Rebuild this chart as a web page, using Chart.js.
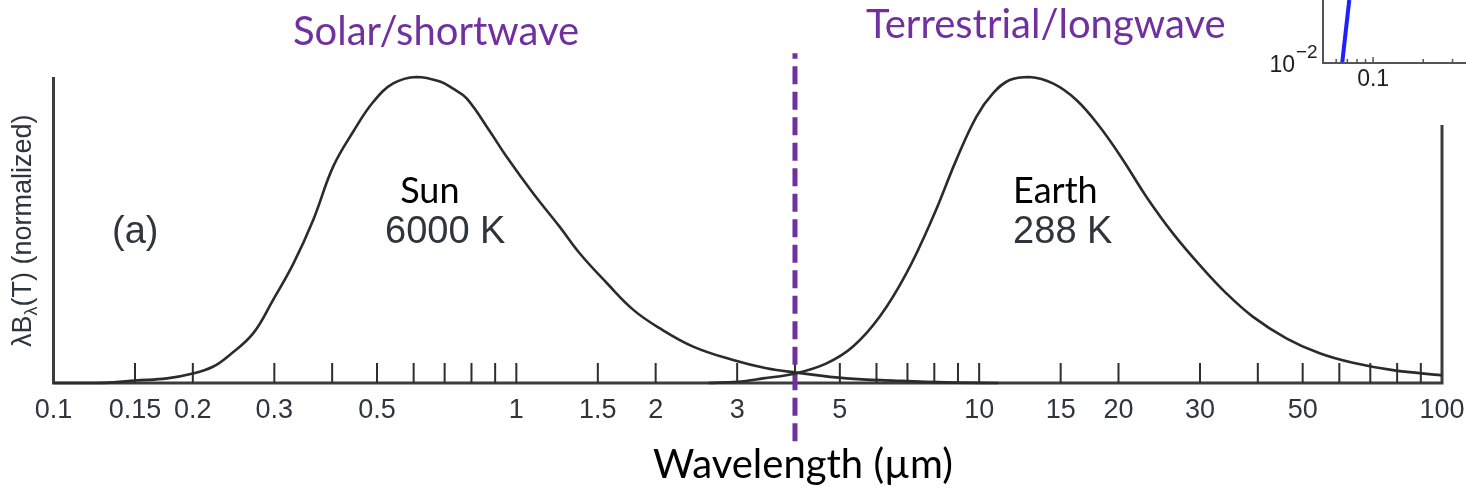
<!DOCTYPE html>
<html>
<head>
<meta charset="utf-8">
<script src="https://cdn.jsdelivr.net/npm/chart.js@4.4.1/dist/chart.umd.min.js"></script>
<style>
  html, body { margin: 0; padding: 0; background: #fff; }
  #wrap { position: relative; width: 1466px; height: 497px; overflow: hidden; }
  #spectrum { position: absolute; left: 0; top: 0; }
  #inset { position: absolute; left: 1240px; top: 0; }
</style>
</head>
<body>
<div id="wrap">
  <canvas id="spectrum" width="1466" height="497"></canvas>
  <canvas id="inset" width="226" height="100"></canvas>
</div>
<script>
// Normalized λBλ(T) curves against wavelength (µm)
const sunWavelengths = [0.1, 0.12, 0.135, 0.15, 0.176, 0.2, 0.221, 0.24, 0.27, 0.298, 0.33, 0.364, 0.402, 0.444, 0.491, 0.542, 0.609, 0.684, 0.73, 0.781, 0.877, 0.952, 1.087, 1.24, 1.37, 1.57, 1.79, 2.04, 2.41, 2.94, 3.47, 4.03, 5.17, 6.62, 8.5, 11];
const sunValues = [0, 0, 0.002, 0.008, 0.015, 0.031, 0.053, 0.091, 0.162, 0.271, 0.391, 0.533, 0.707, 0.821, 0.919, 0.979, 1.0, 0.985, 0.962, 0.93, 0.822, 0.74, 0.62, 0.511, 0.424, 0.326, 0.239, 0.179, 0.119, 0.075, 0.048, 0.034, 0.015, 0.0075, 0.002, 0];

const earthWavelengths = [2.6, 3.0, 3.41, 4.03, 4.68, 5.34, 6.1, 6.96, 7.95, 8.93, 9.86, 10.72, 11.64, 12.85, 14.43, 16.22, 18.2, 20.45, 22.97, 26.22, 29.94, 34.2, 39.0, 46.1, 54.4, 64.2, 78.3, 100];
const earthValues = [0, 0.004, 0.015, 0.032, 0.064, 0.119, 0.217, 0.358, 0.543, 0.73, 0.87, 0.947, 0.99, 1.0, 0.979, 0.925, 0.838, 0.729, 0.609, 0.489, 0.386, 0.293, 0.217, 0.146, 0.097, 0.066, 0.042, 0.025];

// Axis ticks and labels
const tickWavelengths = [0.15, 0.2, 0.3, 0.4, 0.5, 0.6, 0.7, 0.8, 0.9, 1, 1.5, 2, 3, 4, 5, 6, 7, 8, 9, 10, 15, 20, 30, 40, 50, 60, 70, 80, 90];
const labelWavelengths = [0.1, 0.15, 0.2, 0.3, 0.5, 1, 1.5, 2, 3, 5, 10, 15, 20, 30, 50, 100];
const tickLabels = ['0.1', '0.15', '0.2', '0.3', '0.5', '1', '1.5', '2', '3', '5', '10', '15', '20', '30', '50', '100'];

// Shortwave / longwave split
const dividerWavelength = 4;
const dividerRange = [1.078, -0.199];
const rightFrameTop = 0.843;

// Small log-log panel in the corner
const insetWavelengths = [0.0652, 0.0719];
const insetValues = [0.01, 0.1];
const insetMinorTicks = [0.06, 0.07, 0.08, 0.09, 0.2, 0.3];
const insetMajorTick = 0.1;

const toPoints = (xs, ys) => xs.map((v, i) => ({ x: v, y: ys[i] }));

const axisFont = '"Liberation Sans", Arial, sans-serif';
const calloutFont = 'Lato, "Open Sans", sans-serif';
const axisInk = '#2f353d';

const spectrumAxes = {
    id: 'spectrumAxes',
    beforeDatasetsDraw(chart) {
        const { ctx, scales: { x, y } } = chart;
        const xl = x.getPixelForValue(0.1);
        const xr = x.getPixelForValue(100);
        const yb = y.getPixelForValue(0);

        ctx.save();
        // left axis, baseline and right edge
        ctx.strokeStyle = '#3c3c3c';
        ctx.lineWidth = 3;
        ctx.beginPath();
        ctx.moveTo(xl, y.getPixelForValue(1));
        ctx.lineTo(xl, yb);
        ctx.lineTo(xr, yb);
        ctx.lineTo(xr, y.getPixelForValue(rightFrameTop));
        ctx.stroke();

        // ticks point up into the plot
        ctx.lineWidth = 2;
        ctx.strokeStyle = '#2e2e2e';
        ctx.beginPath();
        tickWavelengths.forEach(w => {
            const px = x.getPixelForValue(w);
            ctx.moveTo(px, yb);
            ctx.lineTo(px, yb - 20);
        });
        ctx.stroke();

        ctx.fillStyle = axisInk;
        ctx.font = '27px ' + axisFont;
        ctx.textAlign = 'center';
        ctx.textBaseline = 'alphabetic';
        labelWavelengths.forEach((w, i) => {
            ctx.fillText(tickLabels[i], x.getPixelForValue(w), yb + 35);
        });
        ctx.restore();
    },
    afterDraw(chart) {
        const { ctx, scales: { x, y } } = chart;
        ctx.save();
        ctx.textBaseline = 'alphabetic';
        ctx.textAlign = 'left';

        // band titles
        ctx.fillStyle = '#7030a0';
        ctx.font = '40px ' + calloutFont;
        ctx.fillText('Solar/shortwave', 293, 45);
        ctx.fillText('Terrestrial/longwave', 866, 38);

        // curve names
        ctx.fillStyle = '#000';
        ctx.font = '36px ' + calloutFont;
        ctx.fillText('Sun', x.getPixelForValue(0.561), y.getPixelForValue(0.588));
        ctx.fillText('Earth', x.getPixelForValue(11.84), y.getPixelForValue(0.588));

        ctx.fillStyle = axisInk;
        ctx.font = '38px ' + axisFont;
        ctx.fillText('(a)', x.getPixelForValue(0.1338), y.getPixelForValue(0.4575));
        ctx.fillText('6000 K', x.getPixelForValue(0.5203), y.getPixelForValue(0.4575));
        ctx.fillText('288 K', x.getPixelForValue(11.84), y.getPixelForValue(0.4575));

        // x axis title
        ctx.fillStyle = '#000';
        ctx.font = '40px ' + calloutFont;
        ctx.textAlign = 'center';
        ctx.fillText('Wavelength (\u00b5m)', 803, 478);

        // y axis title, written bottom to top
        ctx.translate(31, 347);
        ctx.rotate(-Math.PI / 2);
        ctx.textAlign = 'left';
        ctx.fillStyle = axisInk;
        let cx = 0;
        ctx.font = '27px ' + axisFont;
        ctx.fillText('\u03bbB', cx, 0);
        cx += ctx.measureText('\u03bbB').width;
        ctx.font = '18px ' + axisFont;
        ctx.fillText('\u03bb', cx, 6);
        cx += ctx.measureText('\u03bb').width;
        ctx.font = '27px ' + axisFont;
        ctx.fillText('(T) (normalized)', cx, 0);
        ctx.restore();
    }
};

new Chart(document.getElementById('spectrum'), {
    type: 'line',
    data: {
        datasets: [
            {
                label: 'Sun 6000 K',
                data: toPoints(sunWavelengths, sunValues),
                borderColor: '#2b2b2b',
                borderWidth: 2.6,
                tension: 0.4,
                pointRadius: 0,
                clip: false
            },
            {
                label: 'Earth 288 K',
                data: toPoints(earthWavelengths, earthValues),
                borderColor: '#2b2b2b',
                borderWidth: 2.6,
                tension: 0.4,
                pointRadius: 0,
                clip: false
            },
            {
                label: 'Divider',
                data: dividerRange.map(v => ({ x: dividerWavelength, y: v })),
                borderColor: '#7030a0',
                borderWidth: 5,
                borderDash: [18, 7.5],
                borderDashOffset: 12.5,
                pointRadius: 0,
                clip: false
            }
        ]
    },
    options: {
        responsive: false,
        animation: false,
        events: [],
        layout: { padding: { left: 53.5, top: 77, right: 24, bottom: 114 } },
        plugins: { legend: { display: false }, tooltip: { enabled: false } },
        scales: {
            x: { type: 'logarithmic', min: 0.1, max: 100, display: false },
            y: { type: 'linear', min: 0, max: 1, display: false }
        }
    },
    plugins: [spectrumAxes]
});

const insetAxes = {
    id: 'insetAxes',
    afterDatasetsDraw(chart) {
        const { ctx, chartArea, scales: { x, y } } = chart;
        const yb = y.getPixelForValue(0.01);
        ctx.save();
        ctx.strokeStyle = '#555';
        ctx.lineWidth = 2;
        ctx.beginPath();
        ctx.moveTo(chartArea.left, chartArea.top);
        ctx.lineTo(chartArea.left, yb);
        ctx.lineTo(chartArea.right, yb);
        ctx.stroke();

        ctx.lineWidth = 1.5;
        ctx.beginPath();
        insetMinorTicks.forEach(w => {
            const px = x.getPixelForValue(w);
            ctx.moveTo(px, yb);
            ctx.lineTo(px, yb - 4);
        });
        const pm = x.getPixelForValue(insetMajorTick);
        ctx.moveTo(pm, yb);
        ctx.lineTo(pm, yb - 6);
        ctx.stroke();

        ctx.fillStyle = '#1e1e1e';
        ctx.textBaseline = 'alphabetic';
        ctx.font = '23px ' + axisFont;
        ctx.textAlign = 'center';
        ctx.fillText('0.1', pm, yb + 23);
        ctx.textAlign = 'right';
        ctx.fillText('10', chartArea.left - 28, yb + 9);
        ctx.textAlign = 'left';
        ctx.font = '19px ' + axisFont;
        ctx.fillText('\u22122', chartArea.left - 27, yb - 5);
        ctx.restore();
    }
};

new Chart(document.getElementById('inset'), {
    type: 'line',
    data: {
        datasets: [{
            data: toPoints(insetWavelengths, insetValues),
            borderColor: '#1f1fff',
            borderWidth: 4,
            pointRadius: 0
        }]
    },
    options: {
        responsive: false,
        animation: false,
        events: [],
        layout: { padding: { left: 83, top: 0, right: 0, bottom: 37 } },
        plugins: { legend: { display: false }, tooltip: { enabled: false } },
        scales: {
            x: { type: 'logarithmic', min: 0.05, max: 0.3614, display: false },
            y: { type: 'logarithmic', min: 0.01, max: 0.1, display: false }
        }
    },
    plugins: [insetAxes]
});
</script>
</body>
</html>
